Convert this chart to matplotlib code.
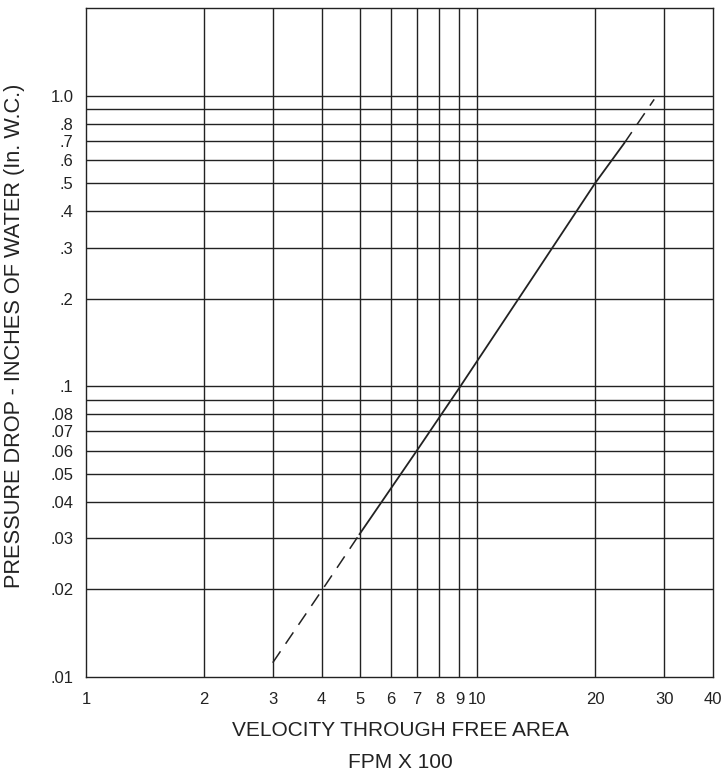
#!/usr/bin/env python3
# pressure drop vs velocity chart, log-log grid
import matplotlib
matplotlib.use('Agg')
import matplotlib.pyplot as plt

# axis ticks / labels
x_ticks = [1, 2, 3, 4, 5, 6, 7, 8, 9, 10, 20, 30, 40]
x_labels = ['1', '2', '3', '4', '5', '6', '7', '8', '9', '10', '20', '30', '40']
y_ticks = [0.01, 0.02, 0.03, 0.04, 0.05, 0.06, 0.07, 0.08, 0.09, 0.1,
           0.2, 0.3, 0.4, 0.5, 0.6, 0.7, 0.8, 0.9, 1.0]
y_labels = ['.01', '.02', '.03', '.04', '.05', '.06', '.07', '.08', '', '.1',
            '.2', '.3', '.4', '.5', '.6', '.7', '.8', '', '1.0']

# curve (velocity in FPM x 100, pressure in in. W.C.)
low_dash_x = [3.0, 4.0, 5.0]
low_dash_y = [0.0112, 0.0198, 0.031]
solid_x = [5.0, 7.0, 9.05, 14.0, 20.0, 23.7]
solid_y = [0.031, 0.060, 0.100, 0.242, 0.500, 0.684]
high_dash_x = [23.7, 28.3]
high_dash_y = [0.684, 0.97]

plt.rcParams['font.family'] = ['Liberation Sans', 'DejaVu Sans']

fig = plt.figure(figsize=(7.28, 7.77), dpi=100)
ax = fig.add_axes([86/728, 1 - 677/777, (713-86)/728, (677-8)/777])
ax.set_xscale('log')
ax.set_yscale('log')
ax.set_xlim(1, 40)
ax.set_ylim(0.01, 2.0)

# grid lines drawn by hand at the tick values
for xv in x_ticks[1:-1]:
    ax.axvline(xv, color='#222222', lw=1.0, zorder=1)
for yv in y_ticks[1:]:
    ax.axhline(yv, color='#222222', lw=1.0, zorder=1)

ax.plot(low_dash_x, low_dash_y, color='#222222', lw=1.1, dashes=(9, 6), zorder=3)
ax.plot(solid_x, solid_y, color='#222222', lw=1.3, zorder=3)
ax.plot(high_dash_x, high_dash_y, color='#222222', lw=1.1, dashes=(9, 6), zorder=3)

ax.xaxis.set_major_locator(matplotlib.ticker.FixedLocator(x_ticks))
ax.xaxis.set_major_formatter(matplotlib.ticker.FixedFormatter(x_labels))
ax.xaxis.set_minor_locator(matplotlib.ticker.NullLocator())
ax.yaxis.set_major_locator(matplotlib.ticker.FixedLocator(y_ticks))
ax.yaxis.set_major_formatter(matplotlib.ticker.FixedFormatter(y_labels))
ax.yaxis.set_minor_locator(matplotlib.ticker.NullLocator())
ax.tick_params(axis='both', length=0, labelsize=12, colors='#222222')
ax.tick_params(axis='x', pad=11)
ax.tick_params(axis='y', pad=9)

for sp in ax.spines.values():
    sp.set_color('#222222')
    sp.set_linewidth(1.0)

fig.text(400/728, 1 - 731/777, 'VELOCITY THROUGH FREE AREA', ha='center', va='center',
         fontsize=15, color='#222222')
fig.text(400/728, 1 - 762/777, 'FPM X 100', ha='center', va='center',
         fontsize=15, color='#222222')
fig.text(15/728, 1 - 336/777, 'PRESSURE DROP - INCHES OF WATER (In. W.C.)', rotation=90,
         ha='center', va='center', fontsize=15.7, color='#222222')

fig.savefig('out.png', dpi=100, facecolor='white')
